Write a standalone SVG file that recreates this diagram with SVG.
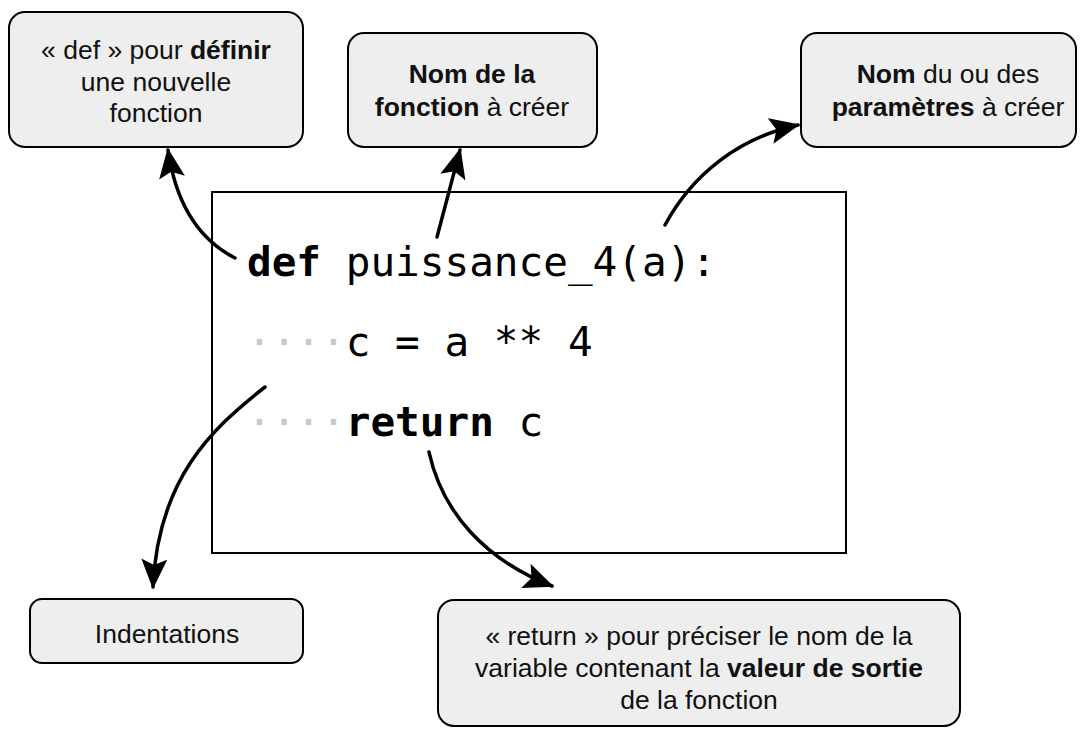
<svg xmlns="http://www.w3.org/2000/svg" width="1085" height="729" viewBox="0 0 1085 729">
<style>
.box{fill:#eeeeee;stroke:#000;stroke-width:2}
.lbl{font-family:"Liberation Sans",Arial,sans-serif;font-size:26.5px;fill:#111;text-anchor:middle}
.b{font-weight:bold}
.code{font-family:"DejaVu Sans Mono",monospace;font-size:41px;fill:#000}
.dot{fill:#c8c8c8}
.conn path{fill:none;stroke:#000;stroke-width:3.5;stroke-linecap:round}
</style>
<defs>
<marker id="ah" viewBox="0 0 30 26" refX="28" refY="13" markerWidth="30" markerHeight="26" markerUnits="userSpaceOnUse" orient="auto">
<path d="M0,0 L30,13 L0,26 L6,13 Z" fill="#000"/>
</marker>
</defs>
<rect x="0" y="0" width="1085" height="729" fill="#fff"/>

<g id="code">
<rect x="212" y="192" width="634" height="361" fill="#fff" stroke="#000" stroke-width="2"/>
<text class="code" x="247" y="276"><tspan font-weight="bold">def</tspan> puissance_4(a):</text>
<text class="code" x="247" y="356"><tspan class="dot">····</tspan>c = a ** 4</text>
<text class="code" x="247" y="436"><tspan class="dot">····</tspan><tspan font-weight="bold">return</tspan> c</text>
</g>

<g id="n-def">
<rect class="box" x="9" y="12" width="294" height="135" rx="16"/>
<text class="lbl" x="156" y="59">« def » pour <tspan class="b">définir</tspan></text>
<text class="lbl" x="156" y="91">une nouvelle</text>
<text class="lbl" x="156" y="122">fonction</text>
</g>

<g id="n-nom">
<rect class="box" x="348" y="33" width="249" height="114" rx="16"/>
<text class="lbl" x="472" y="83"><tspan class="b">Nom de la</tspan></text>
<text class="lbl" x="472" y="116"><tspan class="b">fonction</tspan> à créer</text>
</g>

<g id="n-param">
<rect class="box" x="801" y="33" width="275" height="114" rx="16"/>
<text class="lbl" x="948" y="83"><tspan class="b">Nom</tspan> du ou des</text>
<text class="lbl" x="948" y="116"><tspan class="b">paramètres</tspan> à créer</text>
</g>

<g id="n-indent">
<rect class="box" x="30" y="599" width="273" height="64" rx="12"/>
<text class="lbl" x="167" y="643">Indentations</text>
</g>

<g id="n-return">
<rect class="box" x="438" y="600" width="522" height="126" rx="16"/>
<text class="lbl" x="699" y="645">« return » pour préciser le nom de la</text>
<text class="lbl" x="699" y="677">variable contenant la <tspan class="b">valeur de sortie</tspan></text>
<text class="lbl" x="699" y="709">de la fonction</text>
</g>

<g id="connectors" class="conn">
<path d="M235,258 C200,240 176,205 168,150" marker-end="url(#ah)"/>
<path d="M437,237 L460,150" marker-end="url(#ah)"/>
<path d="M665,225 C692,175 738,138 798,125" marker-end="url(#ah)"/>
<path d="M265,387 C210,430 158,480 153,587" marker-end="url(#ah)"/>
<path d="M429,452 C442,512 485,560 552,586" marker-end="url(#ah)"/>
</g>
</svg>
